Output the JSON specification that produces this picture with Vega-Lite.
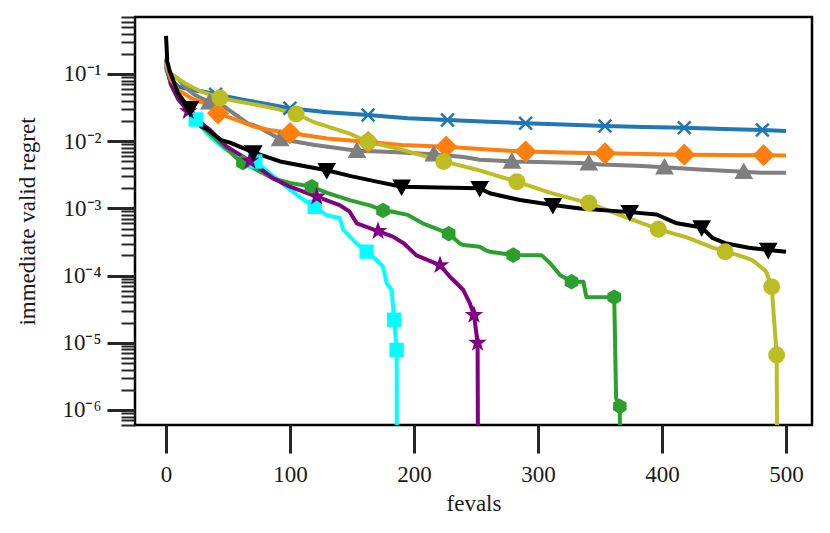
{
  "$schema": "https://vega.github.io/schema/vega-lite/v6.json",
  "width": 677,
  "height": 408,
  "autosize": {"type": "none"},
  "padding": {"left": 135, "top": 17, "right": 18, "bottom": 108},
  "background": "white",
  "config": {
    "axis": {"labelFont": "Liberation Serif", "titleFont": "Liberation Serif", "labelFontSize": 23, "titleFontSize": 23, "titleFontWeight": "normal", "labelColor": "#1a1a1a", "titleColor": "#1a1a1a", "tickColor": "#262626", "grid": false, "domain": false},
    "view": {"stroke": "#000000", "strokeWidth": 2.5}
  },
  "datasets": {
    "lines": [
      {"series":"s1","fevals":0,"regret":0.15},{"series":"s1","fevals":1,"regret":0.12},{"series":"s1","fevals":4,"regret":0.07},{"series":"s1","fevals":10,"regret":0.042},{"series":"s1","fevals":17,"regret":0.028},{"series":"s1","fevals":24,"regret":0.021},{"series":"s1","fevals":34,"regret":0.0125},{"series":"s1","fevals":47,"regret":0.0078},{"series":"s1","fevals":60,"regret":0.0058},{"series":"s1","fevals":72,"regret":0.005},{"series":"s1","fevals":85,"regret":0.0032},{"series":"s1","fevals":100,"regret":0.0019},{"series":"s1","fevals":112,"regret":0.0013},{"series":"s1","fevals":120,"regret":0.00106},{"series":"s1","fevals":129.6,"regret":0.00079},{"series":"s1","fevals":140,"regret":0.00072},{"series":"s1","fevals":143,"regret":0.00048},{"series":"s1","fevals":153.8,"regret":0.0003},{"series":"s1","fevals":161.8,"regret":0.000227},{"series":"s1","fevals":170,"regret":0.00017},{"series":"s1","fevals":175,"regret":0.000136},{"series":"s1","fevals":178,"regret":0.000077},{"series":"s1","fevals":182,"regret":0.000061},{"series":"s1","fevals":184,"regret":0.000022},{"series":"s1","fevals":186,"regret":0.0000078},{"series":"s1","fevals":186.5,"regret":1e-9},
      {"series":"s2","fevals":0,"regret":0.13},{"series":"s2","fevals":1,"regret":0.11},{"series":"s2","fevals":4,"regret":0.07},{"series":"s2","fevals":10,"regret":0.042},{"series":"s2","fevals":17,"regret":0.03},{"series":"s2","fevals":27,"regret":0.018},{"series":"s2","fevals":41,"regret":0.0104},{"series":"s2","fevals":57,"regret":0.0056},{"series":"s2","fevals":62,"regret":0.0048},{"series":"s2","fevals":65,"regret":0.0045},{"series":"s2","fevals":86,"regret":0.0028},{"series":"s2","fevals":100,"regret":0.0024},{"series":"s2","fevals":117.5,"regret":0.0021},{"series":"s2","fevals":130,"regret":0.0017},{"series":"s2","fevals":148,"regret":0.00133},{"series":"s2","fevals":165,"regret":0.0011},{"series":"s2","fevals":175,"regret":0.00093},{"series":"s2","fevals":183,"regret":0.00089},{"series":"s2","fevals":195,"regret":0.0008},{"series":"s2","fevals":207,"regret":0.0006},{"series":"s2","fevals":218,"regret":0.0005},{"series":"s2","fevals":228,"regret":0.00042},{"series":"s2","fevals":237,"regret":0.0003},{"series":"s2","fevals":240,"regret":0.000285},{"series":"s2","fevals":253,"regret":0.000268},{"series":"s2","fevals":258.6,"regret":0.000235},{"series":"s2","fevals":261,"regret":0.000227},{"series":"s2","fevals":280,"regret":0.000202},{"series":"s2","fevals":303,"regret":0.0002},{"series":"s2","fevals":309.7,"regret":0.000154},{"series":"s2","fevals":317.7,"regret":0.000102},{"series":"s2","fevals":327,"regret":0.000081},{"series":"s2","fevals":336.6,"regret":0.000081},{"series":"s2","fevals":339,"regret":0.000048},{"series":"s2","fevals":361.5,"regret":0.0000477},{"series":"s2","fevals":363,"regret":0.0000015},{"series":"s2","fevals":366,"regret":0.00000113},{"series":"s2","fevals":367,"regret":1e-9},
      {"series":"s3","fevals":0,"regret":0.16},{"series":"s3","fevals":1,"regret":0.12},{"series":"s3","fevals":4,"regret":0.07},{"series":"s3","fevals":10,"regret":0.042},{"series":"s3","fevals":18,"regret":0.028},{"series":"s3","fevals":23,"regret":0.022},{"series":"s3","fevals":35.5,"regret":0.0147},{"series":"s3","fevals":49,"regret":0.0083},{"series":"s3","fevals":67.7,"regret":0.0051},{"series":"s3","fevals":86.5,"regret":0.0028},{"series":"s3","fevals":100,"regret":0.0021},{"series":"s3","fevals":121.5,"regret":0.0015},{"series":"s3","fevals":140,"regret":0.00112},{"series":"s3","fevals":148,"regret":0.0009},{"series":"s3","fevals":153.8,"regret":0.0006},{"series":"s3","fevals":171,"regret":0.00046},{"series":"s3","fevals":183,"regret":0.00038},{"series":"s3","fevals":192,"regret":0.0003},{"series":"s3","fevals":202,"regret":0.0002},{"series":"s3","fevals":221,"regret":0.000143},{"series":"s3","fevals":229,"regret":0.000096},{"series":"s3","fevals":239.8,"regret":0.000061},{"series":"s3","fevals":245,"regret":0.000039},{"series":"s3","fevals":248.4,"regret":0.000026},{"series":"s3","fevals":251.3,"regret":0.00001},{"series":"s3","fevals":252,"regret":1e-9},
      {"series":"s4","fevals":0,"regret":0.13},{"series":"s4","fevals":1,"regret":0.11},{"series":"s4","fevals":4,"regret":0.08},{"series":"s4","fevals":10,"regret":0.065},{"series":"s4","fevals":20,"regret":0.058},{"series":"s4","fevals":30,"regret":0.055},{"series":"s4","fevals":40,"regret":0.05},{"series":"s4","fevals":60,"regret":0.042},{"series":"s4","fevals":80,"regret":0.036},{"series":"s4","fevals":100,"regret":0.031},{"series":"s4","fevals":130,"regret":0.027},{"series":"s4","fevals":163,"regret":0.0245},{"series":"s4","fevals":195,"regret":0.022},{"series":"s4","fevals":227,"regret":0.0207},{"series":"s4","fevals":260,"regret":0.0195},{"series":"s4","fevals":290,"regret":0.0185},{"series":"s4","fevals":320,"regret":0.0177},{"series":"s4","fevals":354,"regret":0.0168},{"series":"s4","fevals":385,"regret":0.0162},{"series":"s4","fevals":418,"regret":0.0158},{"series":"s4","fevals":450,"regret":0.0152},{"series":"s4","fevals":481,"regret":0.0147},{"series":"s4","fevals":500,"regret":0.0142},
      {"series":"s5","fevals":0,"regret":0.17},{"series":"s5","fevals":1,"regret":0.13},{"series":"s5","fevals":4,"regret":0.1},{"series":"s5","fevals":9.7,"regret":0.085},{"series":"s5","fevals":15,"regret":0.065},{"series":"s5","fevals":23,"regret":0.049},{"series":"s5","fevals":35,"regret":0.038},{"series":"s5","fevals":47,"regret":0.0326},{"series":"s5","fevals":60,"regret":0.022},{"series":"s5","fevals":66,"regret":0.0184},{"series":"s5","fevals":74,"regret":0.0164},{"series":"s5","fevals":92,"regret":0.0108},{"series":"s5","fevals":120,"regret":0.0088},{"series":"s5","fevals":154,"regret":0.0072},{"series":"s5","fevals":172,"regret":0.007},{"series":"s5","fevals":190,"regret":0.0068},{"series":"s5","fevals":216,"regret":0.0064},{"series":"s5","fevals":240,"regret":0.0058},{"series":"s5","fevals":253,"regret":0.0053},{"series":"s5","fevals":279,"regret":0.005},{"series":"s5","fevals":300,"regret":0.0049},{"series":"s5","fevals":341,"regret":0.0047},{"series":"s5","fevals":350,"regret":0.0045},{"series":"s5","fevals":380,"regret":0.0043},{"series":"s5","fevals":402,"regret":0.0041},{"series":"s5","fevals":430,"regret":0.0038},{"series":"s5","fevals":466,"regret":0.0035},{"series":"s5","fevals":480,"regret":0.0034},{"series":"s5","fevals":500,"regret":0.0034},
      {"series":"s6","fevals":0,"regret":0.15},{"series":"s6","fevals":1,"regret":0.12},{"series":"s6","fevals":4.3,"regret":0.081},{"series":"s6","fevals":9.7,"regret":0.058},{"series":"s6","fevals":20.4,"regret":0.0435},{"series":"s6","fevals":31,"regret":0.0367},{"series":"s6","fevals":42,"regret":0.026},{"series":"s6","fevals":60.7,"regret":0.0195},{"series":"s6","fevals":71.5,"regret":0.0164},{"series":"s6","fevals":85,"regret":0.0145},{"series":"s6","fevals":100,"regret":0.0132},{"series":"s6","fevals":130,"regret":0.011},{"series":"s6","fevals":163,"regret":0.0097},{"series":"s6","fevals":190,"regret":0.0088},{"series":"s6","fevals":226,"regret":0.0083},{"series":"s6","fevals":260,"regret":0.0075},{"series":"s6","fevals":290,"regret":0.007},{"series":"s6","fevals":320,"regret":0.0068},{"series":"s6","fevals":354,"regret":0.0066},{"series":"s6","fevals":418,"regret":0.0063},{"series":"s6","fevals":482,"regret":0.0062},{"series":"s6","fevals":500,"regret":0.0061},
      {"series":"s7","fevals":0,"regret":0.15},{"series":"s7","fevals":1,"regret":0.13},{"series":"s7","fevals":4,"regret":0.1},{"series":"s7","fevals":7,"regret":0.091},{"series":"s7","fevals":17.7,"regret":0.0686},{"series":"s7","fevals":28.5,"regret":0.0545},{"series":"s7","fevals":43.5,"regret":0.044},{"series":"s7","fevals":74,"regret":0.0345},{"series":"s7","fevals":90,"regret":0.03},{"series":"s7","fevals":105,"regret":0.0254},{"series":"s7","fevals":120,"regret":0.019},{"series":"s7","fevals":148,"regret":0.013},{"series":"s7","fevals":163,"regret":0.0098},{"series":"s7","fevals":190,"regret":0.0075},{"series":"s7","fevals":224,"regret":0.005},{"series":"s7","fevals":250,"regret":0.0038},{"series":"s7","fevals":283,"regret":0.0025},{"series":"s7","fevals":310,"regret":0.0017},{"series":"s7","fevals":341,"regret":0.0012},{"series":"s7","fevals":370,"regret":0.00075},{"series":"s7","fevals":397,"regret":0.00049},{"series":"s7","fevals":420,"regret":0.00037},{"series":"s7","fevals":441,"regret":0.00026},{"series":"s7","fevals":451,"regret":0.000227},{"series":"s7","fevals":462,"regret":0.0002},{"series":"s7","fevals":473,"regret":0.00017},{"series":"s7","fevals":484,"regret":0.000115},{"series":"s7","fevals":488.5,"regret":0.000068},{"series":"s7","fevals":492.5,"regret":0.0000066},{"series":"s7","fevals":493.5,"regret":1e-9},
      {"series":"s8","fevals":0,"regret":0.37},{"series":"s8","fevals":0.5,"regret":0.25},{"series":"s8","fevals":1,"regret":0.155},{"series":"s8","fevals":3,"regret":0.11},{"series":"s8","fevals":5.6,"regret":0.083},{"series":"s8","fevals":9.7,"regret":0.052},{"series":"s8","fevals":14,"regret":0.04},{"series":"s8","fevals":19.4,"regret":0.031},{"series":"s8","fevals":28.5,"regret":0.0165},{"series":"s8","fevals":33,"regret":0.0152},{"series":"s8","fevals":44.6,"regret":0.0104},{"series":"s8","fevals":51.6,"regret":0.0095},{"series":"s8","fevals":70.4,"regret":0.0068},{"series":"s8","fevals":92,"regret":0.005},{"series":"s8","fevals":110,"regret":0.0043},{"series":"s8","fevals":129.6,"regret":0.0037},{"series":"s8","fevals":150,"regret":0.003},{"series":"s8","fevals":170,"regret":0.0025},{"series":"s8","fevals":190,"regret":0.0021},{"series":"s8","fevals":220,"regret":0.00205},{"series":"s8","fevals":253,"regret":0.002},{"series":"s8","fevals":261,"regret":0.00168},{"series":"s8","fevals":285.5,"regret":0.00133},{"series":"s8","fevals":312,"regret":0.00112},{"series":"s8","fevals":334,"regret":0.001},{"series":"s8","fevals":374,"regret":0.00088},{"series":"s8","fevals":395.7,"regret":0.00081},{"series":"s8","fevals":405,"regret":0.00068},{"series":"s8","fevals":412,"regret":0.0006},{"series":"s8","fevals":432,"regret":0.00052},{"series":"s8","fevals":441,"regret":0.00036},{"series":"s8","fevals":452,"regret":0.0003},{"series":"s8","fevals":470,"regret":0.00026},{"series":"s8","fevals":485.7,"regret":0.00024},{"series":"s8","fevals":500,"regret":0.000226}
    ],
    "markers": [
      {"series":"s1","fevals":24,"regret":0.021},{"series":"s1","fevals":72,"regret":0.005},{"series":"s1","fevals":120,"regret":0.00106},{"series":"s1","fevals":161.8,"regret":0.000227},{"series":"s1","fevals":184,"regret":0.000022},{"series":"s1","fevals":186,"regret":0.0000078},
      {"series":"s2","fevals":62,"regret":0.0048},{"series":"s2","fevals":117.5,"regret":0.0021},{"series":"s2","fevals":175,"regret":0.00093},{"series":"s2","fevals":228,"regret":0.00042},{"series":"s2","fevals":280,"regret":0.000202},{"series":"s2","fevals":327,"regret":0.000081},{"series":"s2","fevals":361.5,"regret":0.0000477},{"series":"s2","fevals":366,"regret":0.00000113},
      {"series":"s3","fevals":18,"regret":0.028},{"series":"s3","fevals":67.7,"regret":0.0051},{"series":"s3","fevals":121.5,"regret":0.0015},{"series":"s3","fevals":171,"regret":0.00046},{"series":"s3","fevals":221,"regret":0.000143},{"series":"s3","fevals":248.4,"regret":0.000026},{"series":"s3","fevals":251.3,"regret":0.00001},
      {"series":"s4","fevals":40,"regret":0.05},{"series":"s4","fevals":100,"regret":0.031},{"series":"s4","fevals":163,"regret":0.0245},{"series":"s4","fevals":227,"regret":0.0207},{"series":"s4","fevals":290,"regret":0.0185},{"series":"s4","fevals":354,"regret":0.0168},{"series":"s4","fevals":418,"regret":0.0158},{"series":"s4","fevals":481,"regret":0.0147},
      {"series":"s5","fevals":35,"regret":0.038},{"series":"s5","fevals":92,"regret":0.0108},{"series":"s5","fevals":154,"regret":0.0072},{"series":"s5","fevals":216,"regret":0.0064},{"series":"s5","fevals":279,"regret":0.005},{"series":"s5","fevals":341,"regret":0.0047},{"series":"s5","fevals":402,"regret":0.0041},{"series":"s5","fevals":466,"regret":0.0035},
      {"series":"s6","fevals":42,"regret":0.026},{"series":"s6","fevals":100,"regret":0.0132},{"series":"s6","fevals":163,"regret":0.0097},{"series":"s6","fevals":226,"regret":0.0083},{"series":"s6","fevals":290,"regret":0.007},{"series":"s6","fevals":354,"regret":0.0066},{"series":"s6","fevals":418,"regret":0.0063},{"series":"s6","fevals":482,"regret":0.0062},
      {"series":"s7","fevals":43.5,"regret":0.044},{"series":"s7","fevals":105,"regret":0.0254},{"series":"s7","fevals":163,"regret":0.0098},{"series":"s7","fevals":224,"regret":0.005},{"series":"s7","fevals":283,"regret":0.0025},{"series":"s7","fevals":341,"regret":0.0012},{"series":"s7","fevals":397,"regret":0.00049},{"series":"s7","fevals":451,"regret":0.000227},{"series":"s7","fevals":488.5,"regret":0.000068},{"series":"s7","fevals":492.5,"regret":0.0000066},
      {"series":"s8","fevals":19.4,"regret":0.031},{"series":"s8","fevals":70.4,"regret":0.0068},{"series":"s8","fevals":129.6,"regret":0.0037},{"series":"s8","fevals":190,"regret":0.0021},{"series":"s8","fevals":253,"regret":0.002},{"series":"s8","fevals":312,"regret":0.00112},{"series":"s8","fevals":374,"regret":0.00088},{"series":"s8","fevals":432,"regret":0.00052},{"series":"s8","fevals":485.7,"regret":0.00024}
    ]
  },
  "layer": [
    {
      "data": {"name": "lines"},
      "mark": {"type": "line", "strokeWidth": 4, "clip": true, "strokeJoin": "round"},
      "encoding": {
        "x": {"field": "fevals", "type": "quantitative", "scale": {"domain": [-25, 521], "nice": false, "zero": false},
              "axis": {"values": [0, 100, 200, 300, 400, 500], "tickSize": 28, "tickWidth": 3, "labelPadding": 10, "title": "fevals", "titlePadding": 6, "labelFlush": false}},
        "y": {"field": "regret", "type": "quantitative", "scale": {"type": "log", "domain": [5.98e-7, 0.705], "nice": false},
              "axis": {"orient": "left", "values": [0.000001, 0.00001, 0.0001, 0.001, 0.01, 0.1], "tickSize": 28, "tickWidth": 3, "labelPadding": 6, "labelFlush": false, "labelOverlap": false,
                       "labelExpr": "'10⁻' + ['⁰','¹','²','³','⁴','⁵','⁶','⁷'][round(-log(datum.value)/LN10)]",
                       "title": "immediate valid regret", "titleX": -96, "titleY": 204}},
        "color": {"field": "series", "type": "nominal", "legend": null,
                  "scale": {"domain": ["s1","s2","s3","s4","s5","s6","s7","s8"], "range": ["#00ffff","#2ca02c","#800080","#1f77b4","#7f7f7f","#ff7f0e","#bcbd22","#000000"]}}
      }
    },
    {
      "data": {"name": "markers"},
      "mark": {"type": "point", "filled": true, "size": 289, "strokeWidth": 2.5, "opacity": 1, "clip": true},
      "encoding": {
        "x": {"field": "fevals", "type": "quantitative", "scale": {"domain": [-25, 521], "nice": false, "zero": false},
              "axis": {"values": [0, 100, 200, 300, 400, 500], "tickSize": 28, "tickWidth": 3, "labelPadding": 10, "title": "fevals", "titlePadding": 6, "labelFlush": false}},
        "y": {"field": "regret", "type": "quantitative", "scale": {"type": "log", "domain": [5.98e-7, 0.705], "nice": false},
              "axis": {"orient": "left", "values": [6e-7,7e-7,8e-7,9e-7,2e-6,3e-6,4e-6,5e-6,6e-6,7e-6,8e-6,9e-6,2e-5,3e-5,4e-5,5e-5,6e-5,7e-5,8e-5,9e-5,2e-4,3e-4,4e-4,5e-4,6e-4,7e-4,8e-4,9e-4,0.002,0.003,0.004,0.005,0.006,0.007,0.008,0.009,0.02,0.03,0.04,0.05,0.06,0.07,0.08,0.09,0.2,0.3,0.4,0.5,0.6,0.7], "tickSize": 14, "tickWidth": 2, "labels": false, "title": null}},
        "color": {"field": "series", "type": "nominal", "legend": null,
                  "scale": {"domain": ["s1","s2","s3","s4","s5","s6","s7","s8"], "range": ["#00ffff","#2ca02c","#800080","#1f77b4","#7f7f7f","#ff7f0e","#bcbd22","#000000"]}},
        "stroke": {"field": "series", "type": "nominal", "legend": null,
                  "scale": {"domain": ["s1","s2","s3","s4","s5","s6","s7","s8"], "range": ["#00ffff","#2ca02c","#800080","#1f77b4","#7f7f7f","#ff7f0e","#bcbd22","#000000"]}},
        "shape": {"field": "series", "type": "nominal", "legend": null,
                  "scale": {"domain": ["s1","s2","s3","s4","s5","s6","s7","s8"],
                            "range": ["M-0.7,-0.7L0.7,-0.7L0.7,0.7L-0.7,0.7Z",
                                      "M0,-0.75L0.65,-0.375L0.65,0.375L0,0.75L-0.65,0.375L-0.65,-0.375Z",
                                      "M0,-0.7L0.165,-0.227L0.666,-0.216L0.266,0.087L0.412,0.567L0,0.28L-0.412,0.567L-0.266,0.087L-0.666,-0.216L-0.165,-0.227Z",
                                      "M-0.75,-0.75L0.75,0.75M0.75,-0.75L-0.75,0.75",
                                      "M0,-0.8L0.85,0.7L-0.85,0.7Z",
                                      "M0,-1.1L1.1,0L0,1.1L-1.1,0Z",
                                      "M-0.85,0A0.85,0.85,0,1,1,0.85,0A0.85,0.85,0,1,1,-0.85,0Z",
                                      "M0,0.8L0.85,-0.7L-0.85,-0.7Z"]}}
      }
    }
  ],
  "resolve": {"axis": {"y": "independent"}}
}
